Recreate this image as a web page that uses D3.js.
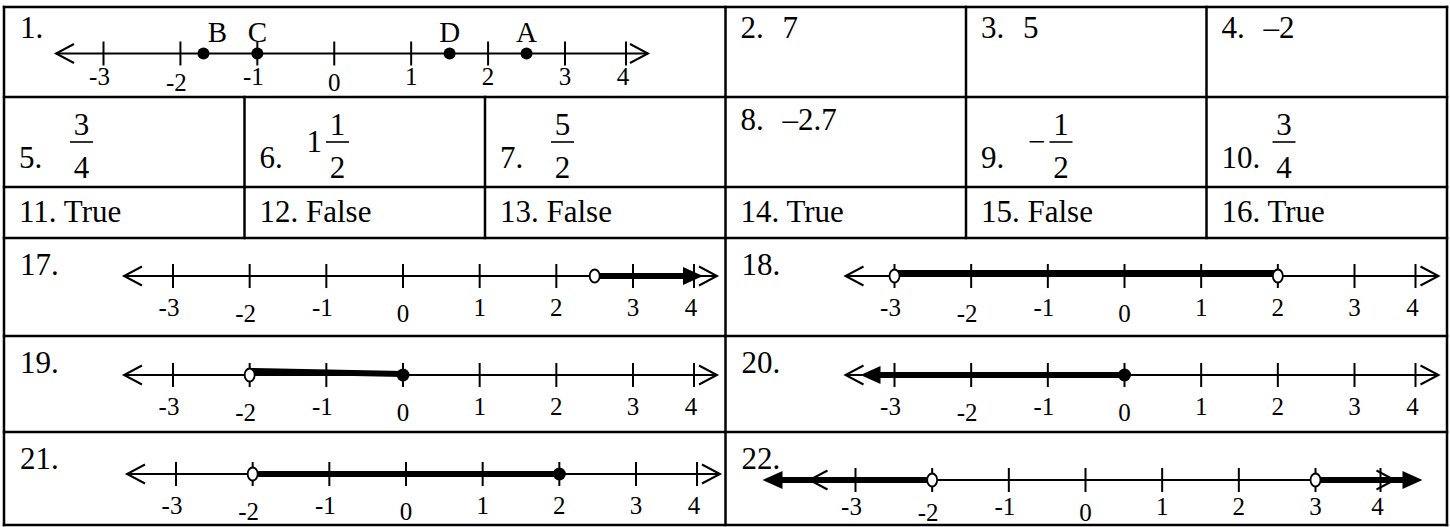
<!DOCTYPE html>
<html>
<head>
<meta charset="utf-8">
<script src="https://cdn.jsdelivr.net/npm/d3@7"></script>
<style>
  body { margin: 0; background: #fff; }
  text { font-family: "Liberation Serif", "Times New Roman", serif; fill: #000; }
</style>
</head>
<body>
<svg id="chart"></svg>
<script>
// answer key values
var tickValues = [-3, -2, -1, 0, 1, 2, 3, 4];
var tickLabels = ["-3", "-2", "-1", "0", "1", "2", "3", "4"];
var loweredTicks = [-2, 0];

var pointNames = ["B", "C", "D", "A"];
var pointValues = [-1.7, -1, 1.5, 2.5];

var shortNums = ["2.", "3.", "4."];
var shortAnswers = ["7", "5", "\u20132"];

var row2Nums = ["5.", "6.", "7.", "8.", "9.", "10."];
var row2Lead = ["", "1", "", "\u20132.7", "\u2212", ""];
var row2Numer = ["3", "1", "5", "", "1", "3"];
var row2Denom = ["4", "2", "2", "", "2", "4"];

var tfNums = ["11.", "12.", "13.", "14.", "15.", "16."];
var tfAnswers = ["True", "False", "False", "True", "False", "True"];

var graphNums = ["17.", "18.", "19.", "20.", "21.", "22."];
// [from, to, fromClosed, toClosed]; +-Infinity means a ray
var graphSegments = [
    [[2.5, Infinity, false, null]],
    [[-3, 2, false, false]],
    [[-2, 0, false, true]],
    [[-Infinity, 0, null, true]],
    [[-2, 2, false, true]],
    [[-Infinity, -2, null, false], [3, Infinity, false, null]]
];

// layout
var W = 1450, H = 527;
var FONT = 31, TICK_FONT = 25;
var rowEdges = [7, 97, 187, 238, 336, 432, 525];
var col = d3.scaleLinear().domain([0, 6]).range([4, 1447]);
var splits = [[3, 4, 5], [1, 2, 3, 4, 5], [1, 2, 3, 4, 5], [3], [3], [3]];

var svg = d3.select("#chart").attr("width", W).attr("height", H);
svg.append("rect").attr("width", W).attr("height", H).attr("fill", "#fff");

var txt = function(x, y, s, size, anchor) {
    return svg.append("text")
        .attr("x", x).attr("y", y)
        .attr("font-size", size)
        .attr("text-anchor", anchor || "start")
        .text(s);
};

// number line with ticks, labels, segments and dots
var numberLine = function(cfg, segs) {
    var g = svg.append("g");
    var x = cfg.x, y = cfg.y;

    g.append("line").attr("x1", cfg.tipL).attr("x2", cfg.tipR).attr("y1", y).attr("y2", y)
        .attr("stroke", "#000").attr("stroke-width", 2);
    // open chevron arrows
    [[cfg.tipL, 1], [cfg.tipR, -1]].forEach(function(a) {
        g.append("path")
            .attr("d", "M" + (a[0] + a[1] * 18) + "," + (y - 9.5) + "L" + a[0] + "," + y + "L" + (a[0] + a[1] * 18) + "," + (y + 9.5))
            .attr("fill", "none").attr("stroke", "#000").attr("stroke-width", 2);
    });

    g.selectAll(".tick").data(tickValues).enter().append("line")
        .attr("x1", d => x(d)).attr("x2", d => x(d))
        .attr("y1", y - 12).attr("y2", y + 12)
        .attr("stroke", "#000").attr("stroke-width", 2);

    g.selectAll(".lbl").data(tickValues).enter().append("text")
        .attr("x", d => x(d) - (d < 0 ? 4 : 0) - (d === 4 ? 3 : 0))
        .attr("y", d => y + cfg.labelDy + (loweredTicks.indexOf(d) >= 0 ? 6 : 0))
        .attr("text-anchor", "middle")
        .attr("font-size", TICK_FONT)
        .text((d, i) => tickLabels[i]);

    (segs || []).forEach(function(s) {
        var dy0 = cfg.barDy ? cfg.barDy[0] : 0, dy1 = cfg.barDy ? cfg.barDy[1] : 0;
        var x0 = s[0] === -Infinity ? cfg.rayL + 17 : x(s[0]);
        var x1 = s[1] === Infinity ? cfg.rayR - 17 : x(s[1]);
        g.append("line").attr("x1", x0).attr("x2", x1).attr("y1", y + dy0).attr("y2", y + dy1)
            .attr("stroke", "#000").attr("stroke-width", 6);
        if (s[1] === Infinity) {
            g.append("path").attr("d", "M" + cfg.rayR + "," + y + "L" + (cfg.rayR - 20) + "," + (y - 9) + "L" + (cfg.rayR - 20) + "," + (y + 9) + "Z")
                .attr("fill", "#000");
        }
        if (s[0] === -Infinity) {
            g.append("path").attr("d", "M" + cfg.rayL + "," + y + "L" + (cfg.rayL + 20) + "," + (y - 9) + "L" + (cfg.rayL + 20) + "," + (y + 9) + "Z")
                .attr("fill", "#000");
        }
        [[s[0], s[2]], [s[1], s[3]]].forEach(function(e) {
            if (!isFinite(e[0])) return;
            if (e[1]) {
                g.append("circle").attr("cx", x(e[0])).attr("cy", y).attr("r", 6.5).attr("fill", "#000");
            } else {
                g.append("ellipse").attr("cx", x(e[0])).attr("cy", y).attr("rx", 5).attr("ry", 6.5)
                    .attr("fill", "#fff").attr("stroke", "#000").attr("stroke-width", 1.8);
            }
        });
    });
    return g;
};

// grid
var grid = svg.append("g").attr("stroke", "#000").attr("stroke-width", 2.5).attr("stroke-linecap", "square");
rowEdges.forEach(function(y) {
    grid.append("line").attr("x1", col(0)).attr("x2", col(6)).attr("y1", y).attr("y2", y);
});
[0, 6].forEach(function(c) {
    grid.append("line").attr("x1", col(c)).attr("x2", col(c)).attr("y1", rowEdges[0]).attr("y2", rowEdges[6]);
});
splits.forEach(function(cols, r) {
    cols.forEach(function(c) {
        grid.append("line").attr("x1", col(c)).attr("x2", col(c)).attr("y1", rowEdges[r]).attr("y2", rowEdges[r + 1]);
    });
});

// row 1: problem 1 number line with points
txt(col(0) + 16, rowEdges[0] + 31, "1.", FONT);
var line1 = {
    x: d3.scaleLinear().domain([-3, 3, 4]).range([col(0) + 99.5, col(0) + 561, col(0) + 622]),
    y: rowEdges[0] + 46.5, tipL: col(0) + 52, tipR: col(0) + 644, labelDy: 31
};
var g1 = numberLine(line1, []);
var pointDx = [14, 0, 0, 0];
g1.selectAll(".pt").data(pointValues).enter().append("circle")
    .attr("cx", d => line1.x(d)).attr("cy", line1.y).attr("r", 6).attr("fill", "#000");
g1.selectAll(".ptl").data(pointValues).enter().append("text")
    .attr("x", (d, i) => line1.x(d) + pointDx[i]).attr("y", line1.y - 12)
    .attr("text-anchor", "middle").attr("font-size", 29)
    .text((d, i) => pointNames[i]);

shortNums.forEach(function(n, i) {
    var cx = col(3 + i);
    txt(cx + 15, rowEdges[0] + 31, n, FONT);
    txt(cx + 57, rowEdges[0] + 31, shortAnswers[i], FONT);
});

// row 2: fractions
row2Nums.forEach(function(n, i) {
    var cx = col(i), top = rowEdges[1];
    if (!row2Numer[i]) {
        txt(cx + 15, top + 33, n, FONT);
        txt(cx + 57, top + 33, row2Lead[i], FONT);
        return;
    }
    var barY = top + 45;
    txt(cx + 15, top + 71, n, FONT);
    var barX = cx + 66;
    if (row2Lead[i]) {
        var lead = txt(cx + 62, barY + 10, row2Lead[i], FONT);
        barX = cx + 62 + lead.node().getComputedTextLength() + 4;
    }
    var barW = 23;
    svg.append("line").attr("x1", barX).attr("x2", barX + barW)
        .attr("y1", barY).attr("y2", barY)
        .attr("stroke", "#000").attr("stroke-width", 1.6);
    txt(barX + barW / 2, barY - 7, row2Numer[i], FONT, "middle");
    txt(barX + barW / 2, barY + 36, row2Denom[i], FONT, "middle");
});

// row 3: true / false
tfNums.forEach(function(n, i) {
    txt(col(i) + 15, rowEdges[2] + 35, n + " " + tfAnswers[i], FONT);
});

// rows 4-6: graphs
var graphShift = [0, 0, 0, 0, 3, 0];
var graphLineDy = [38, 38, 39, 39, 42, 48];
var graphLabelDy = [40, 40, 40, 40, 40, 35];
var graphBarDy = [[0, 0], [-3, -3], [-4, -1], [0, 0], [0, 0], [0, 0]];
graphNums.forEach(function(n, k) {
    var r = 3 + Math.floor(k / 2);
    var cx = col((k % 2) * 3) + graphShift[k];
    var top = rowEdges[r];
    txt(col((k % 2) * 3) + 16, top + 37, n, FONT);
    var cfg;
    if (k === 5) {
        cfg = {
            x: d3.scaleLinear().domain([-3, 3, 4]).range([cx + 130, cx + 590, cx + 655]),
            tipL: cx + 84, tipR: cx + 669, rayL: cx + 37, rayR: cx + 697
        };
    } else {
        cfg = {
            x: d3.scaleLinear().domain([-3, 3, 4]).range([cx + 169, cx + 629, cx + 690]),
            tipL: cx + 120, tipR: cx + 713, rayL: cx + 135, rayR: cx + 699
        };
    }
    cfg.y = top + graphLineDy[k];
    cfg.labelDy = graphLabelDy[k];
    cfg.barDy = graphBarDy[k];
    numberLine(cfg, graphSegments[k]);
});
</script>
</body>
</html>
